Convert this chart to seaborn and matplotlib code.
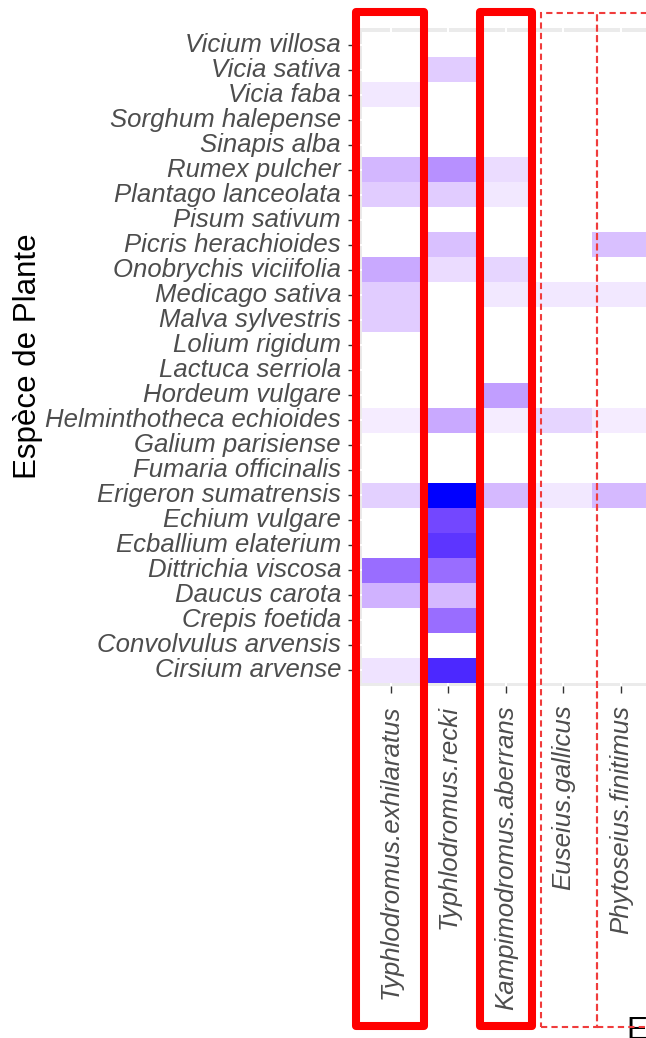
import numpy as np
import pandas as pd
import matplotlib
matplotlib.use("Agg")
import matplotlib.pyplot as plt
from matplotlib.colors import ListedColormap
from matplotlib.patches import Rectangle
import seaborn as sns

# ---------------- data ----------------
plants = ["Vicium villosa", "Vicia sativa", "Vicia faba", "Sorghum halepense",
          "Sinapis alba", "Rumex pulcher", "Plantago lanceolata", "Pisum sativum",
          "Picris herachioides", "Onobrychis viciifolia", "Medicago sativa",
          "Malva sylvestris", "Lolium rigidum", "Lactuca serriola", "Hordeum vulgare",
          "Helminthotheca echioides", "Galium parisiense", "Fumaria officinalis",
          "Erigeron sumatrensis", "Echium vulgare", "Ecballium elaterium",
          "Dittrichia viscosa", "Daucus carota", "Crepis foetida",
          "Convolvulus arvensis", "Cirsium arvense"]
mites = ["Typhlodromus.exhilaratus", "Typhlodromus.recki", "Kampimodromus.aberrans",
         "Euseius.gallicus", "Phytoseius.finitimus"]

t_exhilaratus = [0, 0, 0.10, 0, 0, 0.31, 0.22, 0, 0, 0.37, 0.22, 0.22, 0, 0, 0,
                 0.08, 0, 0, 0.20, 0, 0, 0.63, 0.33, 0, 0, 0.12]
t_recki = [0, 0.22, 0, 0, 0, 0.48, 0.22, 0, 0.27, 0.15, 0, 0, 0, 0, 0,
           0.37, 0, 0, 1.00, 0.79, 0.86, 0.63, 0.30, 0.63, 0, 0.91]
k_aberrans = [0, 0, 0, 0, 0, 0.15, 0.10, 0, 0, 0.18, 0.10, 0, 0, 0, 0.42,
              0.08, 0, 0, 0.30, 0, 0, 0, 0, 0, 0, 0]
e_gallicus = [0, 0, 0, 0, 0, 0, 0, 0, 0, 0, 0.10, 0, 0, 0, 0,
              0.18, 0, 0, 0.10, 0, 0, 0, 0, 0, 0, 0]
p_finitimus = [0, 0, 0, 0, 0, 0, 0, 0, 0.27, 0, 0.10, 0, 0, 0, 0,
               0.08, 0, 0, 0.30, 0, 0, 0, 0, 0, 0, 0]

df = pd.DataFrame({mites[0]: t_exhilaratus, mites[1]: t_recki, mites[2]: k_aberrans,
                   mites[3]: e_gallicus, mites[4]: p_finitimus}, index=plants)

# ---------------- colormap: white -> blue interpolated in CIELAB ----------------
def srgb_to_lab(rgb):
    rgb = np.asarray(rgb, float)
    lin = np.where(rgb <= 0.04045, rgb / 12.92, ((rgb + 0.055) / 1.055) ** 2.4)
    M = np.array([[0.4124, 0.3576, 0.1805], [0.2126, 0.7152, 0.0722], [0.0193, 0.1192, 0.9505]])
    xyz = M @ lin
    wp = np.array([0.95047, 1.0, 1.08883])
    f = xyz / wp
    f = np.where(f > 0.008856, np.cbrt(f), 7.787 * f + 16 / 116)
    return np.array([116 * f[1] - 16, 500 * (f[0] - f[1]), 200 * (f[1] - f[2])])

def lab_to_srgb(lab):
    L, a, b = lab
    fy = (L + 16) / 116
    fx = fy + a / 500
    fz = fy - b / 200
    f = np.array([fx, fy, fz])
    xyz = np.where(f ** 3 > 0.008856, f ** 3, (f - 16 / 116) / 7.787) * np.array([0.95047, 1.0, 1.08883])
    Minv = np.array([[3.2406, -1.5372, -0.4986], [-0.9689, 1.8758, 0.0415], [0.0557, -0.2040, 1.0570]])
    lin = np.clip(Minv @ xyz, 0, 1)
    rgb = np.where(lin <= 0.0031308, 12.92 * lin, 1.055 * lin ** (1 / 2.4) - 0.055)
    return np.clip(rgb, 0, 1)

lab_w = srgb_to_lab([1, 1, 1])
lab_b = srgb_to_lab([0, 0, 1])
cols = [lab_to_srgb(lab_w + (lab_b - lab_w) * t) for t in np.linspace(0, 1, 256)]
cmap = ListedColormap(cols)

# ---------------- figure ----------------
W, H = 646, 1038
sns.set_style("white")
plt.rcParams["font.family"] = ["Liberation Sans", "DejaVu Sans"]

fig = plt.figure(figsize=(W / 100, H / 100), dpi=100)
p_left, p_top, p_bottom = 358, 28, 686
col_w = 57.5
x0 = -0.07
p_right = p_left + (5 - x0) * col_w
ax = fig.add_axes([p_left / W, 1 - p_bottom / H, (p_right - p_left) / W, (p_bottom - p_top) / H])

sns.heatmap(df, ax=ax, cmap=cmap, vmin=0, vmax=1, cbar=False, linewidths=0)

ax.set_facecolor("#EBEBEB")
ax.set_axisbelow(True)
ax.grid(True, color="white", linewidth=1.5)
for s in ax.spines.values():
    s.set_visible(False)
ax.set_xlim(x0, 5.0)
ax.set_ylim(26.12, -0.16)

ax.set_xticks(np.arange(5) + 0.5)
ax.set_xticklabels(mites, rotation=90, fontstyle="italic", color="#4D4D4D", fontsize=18.6)
ax.set_yticks(np.arange(26) + 0.5)
ax.set_yticklabels(plants, rotation=0, fontstyle="italic", color="#4D4D4D", fontsize=18.5)
ax.tick_params(axis="y", length=7.2, width=1, color="#333333", pad=5, left=True)
ax.tick_params(axis="x", length=5, width=1, color="#333333", pad=8.5, bottom=True)

ax.set_ylabel("Espèce de Plante", fontsize=22.5, color="black", rotation=90,
              ha="center", va="center")
ax.yaxis.set_label_coords(28 / W, 1 - 356 / H, transform=fig.transFigure)
ax.set_xlabel("Espèce d'Acarien", fontsize=22.5, color="black", ha="left", va="baseline")
ax.xaxis.set_label_coords(627 / W, 1 - 1039 / H, transform=fig.transFigure)

# ---------------- red highlight frames (pixel geometry) ----------------
def px_rect(x1, y1, x2, y2, **kw):
    r = Rectangle((x1 / W, 1 - y2 / H), (x2 - x1) / W, (y2 - y1) / H,
                  transform=fig.transFigure, fill=False, clip_on=False, **kw)
    fig.add_artist(r)

px_rect(356, 12, 424, 1025.5, edgecolor="#FF0000", linewidth=5.8, joinstyle="round")
px_rect(480, 12, 531.7, 1025.5, edgecolor="#FF0000", linewidth=5.8, joinstyle="round")
px_rect(540.7, 13, 596.7, 1026.7, edgecolor="#F03C3C", linewidth=1.5, linestyle=(0, (3, 2)))
px_rect(596.7, 13, 720, 1026.7, edgecolor="#F03C3C", linewidth=1.5, linestyle=(0, (3, 2)))

fig.savefig("out.png", dpi=100)
